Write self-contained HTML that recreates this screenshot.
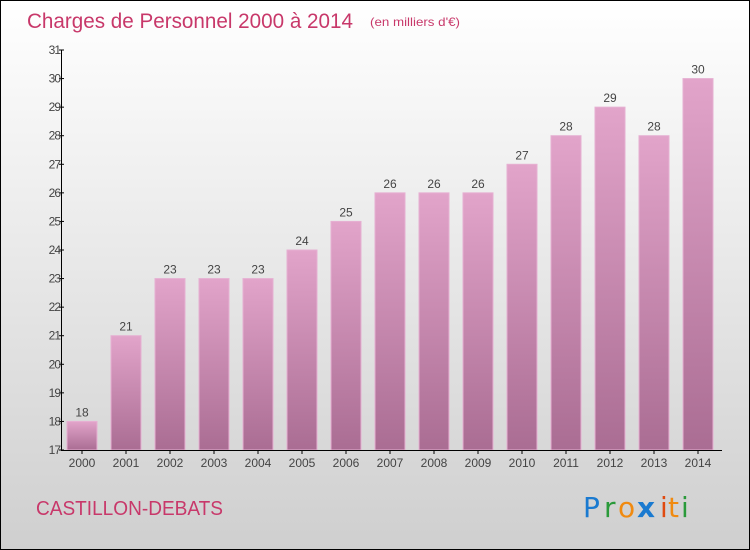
<!DOCTYPE html>
<html><head><meta charset="utf-8"><style>
body{margin:0;}
#c{position:relative;width:748px;height:548px;border:1px solid #000;background:linear-gradient(#fff,#cfcfcf);font-family:"Liberation Sans",sans-serif;overflow:hidden}
</style></head><body>
<div id="c">
<svg width="748" height="548">
<defs>
<linearGradient id="g" x1="0" y1="0" x2="0" y2="1"><stop offset="0" stop-color="#e2a4ca"/><stop offset="1" stop-color="#aa6d93"/></linearGradient>
</defs>
<text x="26" y="27" font-size="21" fill="#c8386a" textLength="326" lengthAdjust="spacingAndGlyphs">Charges de Personnel 2000 à 2014</text>
<text x="369" y="25" font-size="12" fill="#c8386a" textLength="90" lengthAdjust="spacingAndGlyphs">(en milliers d'€)</text>
<g id="plot"></g>
<text x="35" y="514" font-size="20" fill="#c8386a" textLength="187" lengthAdjust="spacingAndGlyphs">CASTILLON-DEBATS</text>
<g font-size="28" font-family="'DejaVu Sans',sans-serif">
<text x="582" y="516" fill="#1a7ad0">P</text><text x="603" y="516" fill="#2a9a3a">r</text><text x="617" y="516" fill="#f08a10">o</text><text x="636" y="516" fill="#1a7ad0" font-weight="bold">x</text><text x="659" y="516" fill="#e04a10">i</text><text x="667" y="516" fill="#f08a10">t</text><text x="680" y="516" fill="#2a9a3a">i</text>
</g>
</svg>
</div>
<script>
const years=["2000","2001","2002","2003","2004","2005","2006","2007","2008","2009","2010","2011","2012","2013","2014"];
const values=[18,21,23,23,23,24,25,26,26,26,27,28,29,28,30];
const yTicks=[17,18,19,20,21,22,23,24,25,26,27,28,29,30,31];
const NS="http://www.w3.org/2000/svg";
const g=document.getElementById('plot');
const y0=449,ymin=17,ymax=31,ytop=49;
function y(v){return y0-(v-ymin)*(y0-ytop)/(ymax-ymin);}
function x(i){return 81+i*44;}
function mk(t,a){const e=document.createElementNS(NS,t);for(const k in a)e.setAttribute(k,a[k]);g.appendChild(e);return e;}
values.forEach((v,i)=>{
 const r=mk('rect',{x:x(i)-15,y:y(v),width:30,height:y0-y(v),fill:'url(#g)',stroke:'#e6b0d2','stroke-width':1});
 
 
 const t=mk('text',{x:x(i),y:y(v)-5,'text-anchor':'middle','font-size':12,fill:'#444'});t.textContent=v;
 
 
 const l=mk('text',{x:x(i),y:466,'text-anchor':'middle','font-size':12,fill:'#444'});l.textContent=years[i];
 
 
 mk('line',{x1:x(i),x2:x(i),y1:y0,y2:y0+4,stroke:'#000'});
});
yTicks.forEach(v=>{
 mk('line',{x1:58,x2:63,y1:y(v),y2:y(v),stroke:'#000'});
 const t=mk('text',{x:59,y:y(v)+4,'text-anchor':'end','font-size':12,fill:'#444','letter-spacing':'-1'});t.textContent=v;
 
 
});
const ya=mk('line',{x1:60.5,x2:60.5,y1:ytop,y2:y0,stroke:'#000'});


const xa=mk('line',{x1:60,x2:721,y1:y0+0.5,y2:y0+0.5,stroke:'#000'});


</script>
</body></html>
